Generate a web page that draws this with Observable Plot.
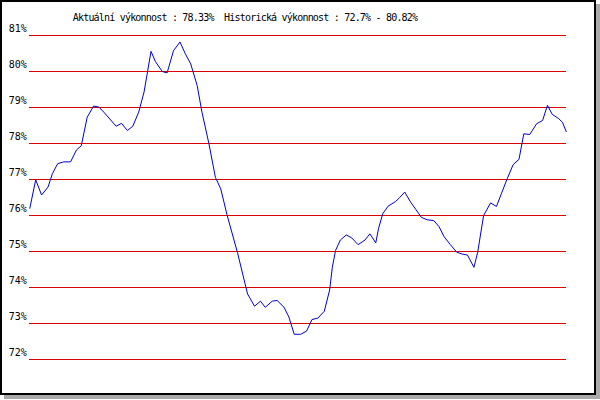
<!DOCTYPE html>
<html>
<head>
<meta charset="utf-8">
<script src="https://cdn.jsdelivr.net/npm/d3@7"></script>
<script src="https://cdn.jsdelivr.net/npm/@observablehq/plot@0.6"></script>
<style>
  html, body { margin: 0; padding: 0; background: #fff; }
  #wrap { position: relative; width: 600px; height: 400px; }
  #box { position: absolute; left: 0; top: 0; width: 592px; height: 391px;
         border: 2px solid #000; box-shadow: 4px 4px 0 #aaaaaa; background: #fff; }
  #chart { position: absolute; left: 0; top: 0; }
  #chart svg { background: transparent; }
</style>
</head>
<body>
<div id="wrap"><div id="box"></div><div id="chart"></div></div>
<script>
const currentPerf = "78.33%";
const histMin = "72.7%";
const histMax = "80.82%";
const titleText = `Aktuální výkonnost : ${currentPerf}  Historická výkonnost : ${histMin} - ${histMax}`;

const yTicks = [72, 73, 74, 75, 76, 77, 78, 79, 80, 81];

const days = [0, 1.1, 2.2, 3.4, 4.2, 5.2, 6.3, 7.6, 8.7, 9.6, 10.7, 11.9, 12.9, 13.8, 16.1, 17.1, 18.2, 19.2, 20.3, 21.3,
  22.6, 23.4, 24.7, 25.6, 25.9, 26.8, 28.0, 29.0, 30.0, 31.2, 32.1, 33.4, 34.6, 35.6, 36.8, 38.7, 39.6, 40.6, 41.9, 43.0,
  43.9, 45.2, 46.1, 47.4, 48.3, 49.3, 50.5, 51.6, 52.6, 53.7, 54.9, 55.9, 56.4, 57.0, 57.9, 59.0, 60.0, 61.2, 62.5, 63.4,
  64.5, 65.0, 65.8, 66.8, 68.2, 68.9, 69.9, 71.0, 72.0, 73.0, 74.1, 75.3, 76.3, 77.2, 78.4, 79.6, 80.6, 81.6, 82.8, 83.5,
  84.6, 85.9, 87.0, 87.9, 89.0, 90.1, 91.2, 92.1, 93.2, 94.5, 95.6, 96.5, 97.4, 98.6, 99.3, 100];

const perf = [76.20, 76.99, 76.57, 76.79, 77.16, 77.44, 77.49, 77.49, 77.82, 77.94, 78.73, 79.04, 79.01, 78.87, 78.48, 78.56, 78.36, 78.48, 78.87, 79.43,
  80.56, 80.28, 80.00, 79.96, 80.12, 80.58, 80.82, 80.49, 80.21, 79.61, 78.87, 77.99, 77.06, 76.74, 76.00, 74.98, 74.43, 73.82, 73.48, 73.62,
  73.45, 73.62, 73.64, 73.45, 73.18, 72.70, 72.70, 72.79, 73.11, 73.15, 73.34, 73.93, 74.56, 75.03, 75.32, 75.46, 75.38, 75.19, 75.32, 75.49,
  75.24, 75.63, 76.05, 76.26, 76.39, 76.49, 76.65, 76.37, 76.16, 75.95, 75.88, 75.86, 75.69, 75.42, 75.19, 74.98, 74.93, 74.90, 74.56, 74.98,
  76.00, 76.35, 76.25, 76.60, 77.02, 77.41, 77.56, 78.27, 78.25, 78.55, 78.64, 79.06, 78.81, 78.69, 78.59, 78.33];

const data = days.map((d, i) => ({day: d, value: perf[i]}));

const font = "'DejaVu Sans Mono', 'Liberation Mono', monospace";

const chart = Plot.plot({
  width: 600,
  height: 400,
  margin: 0,
  style: {background: "transparent", fontFamily: font, fontSize: "10px", color: "#000"},
  x: {domain: [0, 100], range: [29.3, 565.7], axis: null},
  y: {domain: [72, 81], range: [359, 35], axis: null},
  marks: [
    Plot.ruleY(yTicks, {y: d => d, x1: 0, x2: 100, stroke: "#dd0000", strokeWidth: 1, shapeRendering: "crispEdges"}),
    Plot.text(yTicks, {x: 0, y: d => d, text: d => d + "%", textAnchor: "end", dx: -3, dy: -6.5,
      fill: "#000", fontSize: 10, fontFamily: font}),
    Plot.line(data, {x: "day", y: "value", stroke: "#0000cc", strokeWidth: 1}),
    Plot.text([titleText], {frameAnchor: "top-left", dx: 244.5, dy: 13, text: d => d, textAnchor: "middle",
      fill: "#000", fontSize: 10, fontFamily: font, letterSpacing: "-0.8px"})
  ]
});
chart.querySelectorAll("text").forEach(t => {
  if (t.textContent === titleText) t.setAttribute("letter-spacing", "-0.8");
});
document.getElementById("chart").appendChild(chart);
</script>
</body>
</html>
